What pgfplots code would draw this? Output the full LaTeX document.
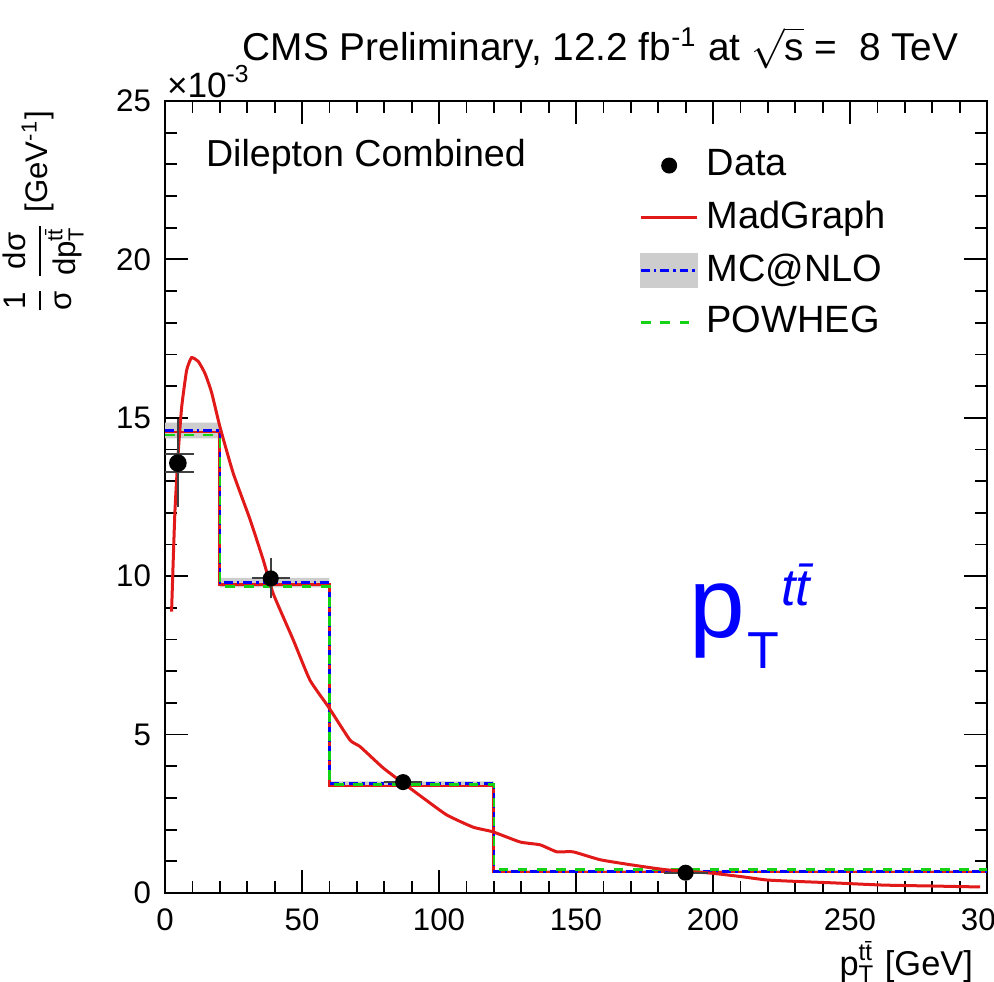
\documentclass[border=0pt]{standalone}
\usepackage{fontspec}
\setmainfont{Liberation Sans}
\usepackage{amsmath}
\usepackage{pgfplots}
\pgfplotsset{compat=1.18}
\usetikzlibrary{calc}
\definecolor{mgred}{RGB}{225,25,25}
\definecolor{pwgreen}{RGB}{20,210,20}
\definecolor{bandgray}{RGB}{205,205,205}

\begin{document}
\begin{tikzpicture}
\begin{axis}[
    name=ax,
    scale only axis,
    width=205.5pt, height=198pt,
    xmin=0, xmax=300, ymin=0, ymax=25,
    xtick={0,50,...,300}, ytick={0,5,...,25},
    minor x tick num=4, minor y tick num=4,
    tick align=inside,
    major tick length=5.75pt, minor tick length=3pt,
    axis line style={line width=0.6pt},
    every tick/.style={black, line width=0.45pt},
    tick label style={font=\fontsize{7.8}{9}\selectfont},
    /pgf/number format/assume math mode=true,
    xticklabel style={yshift=-0.5pt},
    title={CMS Preliminary, 12.2 fb$^{\text{-1}}$ at $\sqrt{\text{s}}$ =\ \ 8 TeV},
    title style={at={(axis description cs:0.53,1)}, anchor=south, yshift=-1.5pt,
                 font=\fontsize{9.7}{11}\selectfont},
    xlabel={p$_{\text{T}}^{\text{t\=t}}$ [GeV]},
    xlabel style={at={(axis description cs:1,0)}, anchor=north east, yshift=-8.5pt,
                  font=\fontsize{8.6}{10}\selectfont},
    ylabel={$\dfrac{\text{1}}{\text{σ}}\,\dfrac{\text{dσ}}{\text{dp}_{\text{T}}^{\text{t\=t}}}$ [GeV$^{\text{-1}}$]},
    ylabel style={at={(axis description cs:-0.148,1.005)}, anchor=east,
                  font=\fontsize{7.8}{9}\selectfont},
    legend style={at={(axis description cs:0.562,0.96)}, anchor=north west,
                  draw=none, fill=none, font=\fontsize{9.5}{11}\selectfont,
                  row sep=0.8pt, legend cell align=left},
]

% legend entries
\addlegendimage{legend image code/.code={\fill[black] (7pt,0pt) circle (1.8pt);}}
\addlegendentry{Data}
\addlegendimage{legend image code/.code={\draw[mgred, line width=0.7pt] (0pt,0pt) -- (14pt,0pt);}}
\addlegendentry{MadGraph}
\addlegendimage{legend image code/.code={\fill[bandgray] (0pt,-4.2pt) rectangle (14pt,4.2pt);
    \draw[blue, line width=0.6pt, dash pattern=on 2.2pt off 1pt on 0.6pt off 1pt] (0pt,0pt) -- (14pt,0pt);}}
\addlegendentry{MC@NLO}
\addlegendimage{legend image code/.code={\draw[pwgreen, line width=0.6pt, dash pattern=on 2.4pt off 2.4pt] (0pt,0pt) -- (14pt,0pt);}}
\addlegendentry{POWHEG}

% MC@NLO uncertainty band
\addplot[fill=bandgray, draw=none, forget plot] coordinates {
    (0,14.85)(20,14.85)(20,9.95)(60,9.95)(60,3.52)(120,3.52)(120,0.73)(300,0.73)
    (300,0.65)(120,0.65)(120,3.40)(60,3.40)(60,9.65)(20,9.65)(20,14.35)(0,14.35)
} -- cycle;

% MadGraph binned
\addplot[const plot, mgred, line width=0.7pt, forget plot] coordinates {
    (0,14.55)(20,9.75)(60,3.38)(120,0.66)(300,0.66)
};
% MC@NLO binned
\addplot[const plot, blue, line width=0.6pt, dash pattern=on 2.2pt off 1pt on 0.6pt off 1pt, forget plot] coordinates {
    (0,14.6)(20,9.8)(60,3.45)(120,0.68)(300,0.68)
};
% POWHEG binned
\addplot[const plot, pwgreen, line width=0.6pt, dash pattern=on 2.4pt off 2.4pt, forget plot] coordinates {
    (0,14.45)(20,9.68)(60,3.43)(120,0.74)(300,0.74)
};

% MadGraph curve
\addplot[mgred, line width=0.75pt, smooth, tension=0.3, forget plot] coordinates {
    (2.4,8.88)(3.6,12.0)(4.9,14.0)(6.1,15.35)(7.9,16.5)(9.7,16.9)(12.2,16.77)
    (14.6,16.4)(17,15.8)(20.1,14.7)(24.9,13.25)(31,11.8)(35.9,10.5)(39.5,9.45)
    (46.8,7.99)(52.9,6.72)(59.6,5.88)(67.5,4.83)(71.2,4.62)(79.6,3.95)(86.9,3.47)
    (95,2.95)(102.9,2.46)(112.4,2.08)(119.7,1.93)(129.6,1.61)(136.9,1.52)(143,1.3)
    (148.9,1.3)(158.8,1.05)(170.8,0.88)(183.2,0.73)(198.9,0.63)(210,0.52)
    (219.7,0.41)(232,0.36)(243.8,0.32)(262,0.25)(280,0.22)(297.5,0.19)
};

% Data: total uncertainties
\addplot[only marks, mark=*, mark size=1.8pt, black, forget plot,
    error bars/.cd, x dir=both, x explicit, y dir=both, y explicit,
    error mark=none, error bar style={line width=0.5pt, black!75}]
coordinates {
    (4.7,13.57) +- (0,1.4)
    (38.6,9.93) +- (6.9,0.63)
    (86.9,3.5) +- (7,0.12)
    (190,0.64) +- (8,0.06)
};
% Data: statistical ticks
\addplot[only marks, mark=none, forget plot,
    error bars/.cd, y dir=both, y explicit,
    error mark options={black!75, line width=0.5pt, mark size=4pt, rotate=90},
    error bar style={draw=none}]
coordinates {
    (4.7,13.57) +- (0,0.29)
};

\node[anchor=west, inner sep=0pt, font=\fontsize{9.4}{11}\selectfont] at (axis description cs:0.049,0.929) {Dilepton Combined};
\node[anchor=base west, text=blue, inner sep=0pt] at (axis cs:191.2,8.08)
    {\fontsize{25}{25}\selectfont p\kern0.5pt\raisebox{-7.75pt}{\fontsize{13}{13}\selectfont T}\kern0.5pt\raisebox{8pt}{\fontsize{13}{13}\selectfont\itshape t\=t}};
\end{axis}
\node[anchor=south west, inner sep=0pt, font=\fontsize{8.8}{10}\selectfont] at ($(ax.north west)+(0.3pt,0.6pt)$) {×10$^{\text{-3}}$};
\pgfresetboundingbox
\path[use as bounding box] ($(ax.south west)+(-41.25pt,-22.25pt)$) rectangle ($(ax.north east)+(1.75pt,25.25pt)$);
\end{tikzpicture}
\end{document}
